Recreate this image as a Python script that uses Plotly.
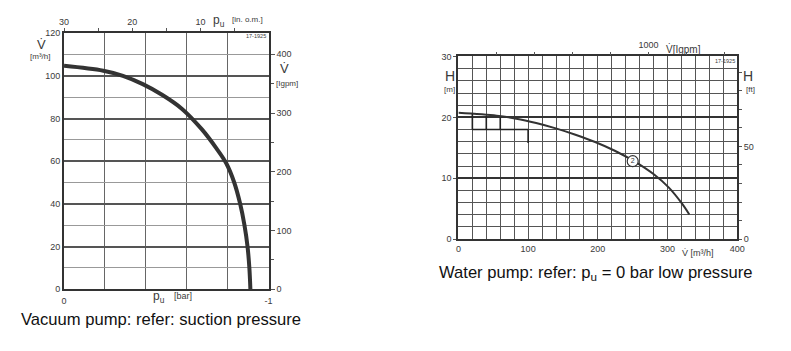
import plotly.graph_objects as go

W, H = 791, 351

# ---------------- data ----------------
# Vacuum pump: suction pressure p_u [bar] vs flow V [m3/h]
vac_p = [0, -0.192, -0.288, -0.385, -0.481, -0.577, -0.673, -0.745, -0.793, -0.832, -0.861, -0.882, -0.897, -0.906, -0.911]
vac_V = [104.7, 102.4, 100.0, 96.1, 91.0, 84.5, 75.0, 66.0, 59.0, 50.0, 40.0, 30.0, 20.0, 10.0, 0.0]

# Water pump: flow Q [m3/h] vs head H [m]
wat_Q = [0, 55, 83, 111.5, 139.7, 167.9, 196.1, 224.3, 252.5, 280.7, 301.9, 320.3, 331.2]
wat_H = [20.74, 20.26, 19.79, 19.07, 18.19, 17.15, 15.96, 14.52, 12.77, 10.61, 8.46, 5.90, 4.04]
wat_point_Q = [250]
wat_point_H = [12.8]
wat_point_label = ["2"]

# tick labels
vac_bar_ticks = [0, -1.0]
vac_bar_text = ["0", "-1"]
vac_bar_minor = [-0.2, -0.4, -0.6, -0.8]
vac_inhg_ticks = [30, 20, 10]
vac_inhg_minor = [25, 15, 5]
vac_V_ticks = [0, 20, 40, 60, 80, 100, 120]
vac_igpm_ticks = [0, 100, 200, 300, 400]
vac_igpm_minor = [50, 150, 250, 350]
wat_Q_ticks = [0, 100, 200, 300, 400]
wat_H_ticks = [0, 10, 20, 30]
wat_igpm_ticks = [1000]
wat_igpm_minor = [200, 400, 600, 800, 1200, 1400]
wat_ft_ticks = [0, 50]
wat_ft_minor = [10, 20, 30, 40, 60, 70, 80, 90]

# traced (darkened) grid segments in the water chart scan
trace_seg_Q = [[20, 100], [20, 20], [40, 40], [60, 60], [100, 100]]
trace_seg_H = [[18, 18], [18, 20.6], [18, 20.2], [18, 20.0], [15.8, 18]]

M3H_TO_IGPM = 3.666
M_TO_FT = 1 / 0.3048

# ---------------- figure ----------------
TXT = "#3a3a3a"
FONT = "Liberation Sans"
fig = go.Figure()

fig.add_trace(go.Scatter(x=vac_p, y=vac_V, mode="lines",
                         line=dict(color="#333", width=4, shape="spline", smoothing=1.0),
                         xaxis="x", yaxis="y", hoverinfo="skip", showlegend=False))
# dummy traces to carry the secondary axes
fig.add_trace(go.Scatter(x=[None], y=[None], xaxis="x2", yaxis="y2", showlegend=False, hoverinfo="skip"))
fig.add_trace(go.Scatter(x=wat_Q, y=wat_H, mode="lines",
                         line=dict(color="#333", width=2, shape="spline", smoothing=1.0),
                         xaxis="x3", yaxis="y3", hoverinfo="skip", showlegend=False))
for sq, sh in zip(trace_seg_Q, trace_seg_H):
    fig.add_trace(go.Scatter(x=sq, y=sh, mode="lines", line=dict(color="#222", width=1.6),
                             xaxis="x3", yaxis="y3", hoverinfo="skip", showlegend=False))
fig.add_trace(go.Scatter(x=wat_point_Q, y=wat_point_H, mode="markers+text", text=wat_point_label,
                         textposition="middle center", textfont=dict(size=7, color="#333", family=FONT),
                         marker=dict(symbol="circle", size=11, color="white", line=dict(color="#333", width=1.2)),
                         xaxis="x3", yaxis="y3", hoverinfo="skip", showlegend=False))
fig.add_trace(go.Scatter(x=[None], y=[None], xaxis="x4", yaxis="y4", showlegend=False, hoverinfo="skip"))

tf = dict(size=9, color=TXT, family=FONT)
ldom_x = [60 / W, 268 / W]
ldom_y = [1 - 292.5 / H, 1 - 29 / H]
rdom_x = [461 / W, 744.5 / W]
rdom_y = [1 - 241 / H, 1 - 53 / H]

fig.update_layout(
    width=W, height=H, margin=dict(l=0, r=0, t=0, b=0),
    paper_bgcolor="white", plot_bgcolor="white", showlegend=False,
    xaxis=dict(domain=ldom_x, anchor="y", range=[0, -1], tickvals=vac_bar_ticks, ticktext=vac_bar_text,
               showgrid=True, gridcolor="#666", gridwidth=1.2, zeroline=False, showline=True,
               linecolor="#333", linewidth=2, ticks="", tickfont=tf, ticklabelstandoff=2,
               minor=dict(tickvals=vac_bar_minor, showgrid=True, gridcolor="#666", gridwidth=1.2)),
    xaxis2=dict(overlaying="x", side="top", anchor="y", range=[30, 0], tickvals=vac_inhg_ticks,
                ticks="outside", ticklen=3, tickcolor="#555", showgrid=False, zeroline=False,
                showline=True, linecolor="#333", linewidth=2, tickfont=tf,
                minor=dict(tickvals=vac_inhg_minor, ticks="outside", ticklen=3, tickcolor="#555")),
    yaxis=dict(domain=ldom_y, anchor="x", range=[0, 120], tickvals=vac_V_ticks, showgrid=True,
               gridcolor="#555", gridwidth=1.5, zeroline=False, showline=True, linecolor="#333",
               linewidth=2, ticks="", tickfont=tf,
               minor=dict(dtick=10, showgrid=True, gridcolor="#999", gridwidth=1)),
    yaxis2=dict(overlaying="y", side="right", anchor="x", range=[0, 436], tickvals=vac_igpm_ticks,
                ticks="outside", ticklen=4, tickcolor="#555", showgrid=False, zeroline=False,
                showline=True, linecolor="#333", linewidth=2, tickfont=tf,
                minor=dict(tickvals=vac_igpm_minor, ticks="outside", ticklen=3, tickcolor="#555")),
    xaxis3=dict(domain=rdom_x, anchor="y3", range=[0, 400], tickvals=wat_Q_ticks, showgrid=True,
                gridcolor="#555", gridwidth=1, zeroline=False, showline=True, linecolor="#333",
                linewidth=2, ticks="", tickfont=tf,
                minor=dict(dtick=20, showgrid=True, gridcolor="#555", gridwidth=1)),
    yaxis3=dict(domain=rdom_y, anchor="x3", range=[0, 30], tickvals=wat_H_ticks, showgrid=True,
                gridcolor="#333", gridwidth=1.6, zeroline=False, showline=True, linecolor="#333",
                linewidth=2, ticks="outside", ticklen=3, tickcolor="#555", tickfont=tf,
                minor=dict(dtick=2, showgrid=True, gridcolor="#555", gridwidth=1)),
    xaxis4=dict(overlaying="x3", side="top", anchor="y3", range=[0, 400 * M3H_TO_IGPM],
                tickvals=wat_igpm_ticks, ticks="outside", ticklen=3,
                tickcolor="#555", showgrid=False, zeroline=False, showline=True, linecolor="#333",
                linewidth=1.5, tickfont=tf,
                minor=dict(tickvals=wat_igpm_minor, ticks="outside", ticklen=3, tickcolor="#555")),
    yaxis4=dict(overlaying="y3", side="right", anchor="x3", range=[0, 30 * M_TO_FT],
                tickvals=wat_ft_ticks, ticks="outside", ticklen=3,
                tickcolor="#555", showgrid=False, zeroline=False, showline=True, linecolor="#333",
                linewidth=1.5, tickfont=tf,
                minor=dict(tickvals=wat_ft_minor, ticks="outside", ticklen=3, tickcolor="#555")),
)


def ann(px, py, text, size=9, xanchor="center", color=TXT, family=FONT):
    fig.add_annotation(x=px / W, y=1 - py / H, xref="paper", yref="paper", text=text, showarrow=False,
                       xanchor=xanchor, yanchor="middle", font=dict(size=size, color=color, family=family))


# vacuum chart labels
ann(37, 41, "V\u0307", 13)
ann(36, 53, "[m³/h]", 8)
ann(218, 16, "p<sub>u</sub>", 12)
ann(247, 15, "[in. o.m.]", 8)
ann(255, 32, "17-1925", 5.5)
ann(284, 65, "V\u0307", 13)
ann(287, 81, "[Igpm]", 8)
ann(157, 301, "p<sub>u</sub>", 12)
ann(181, 300, "[bar]", 9)
ann(14, 324, "Vacuum pump: refer: suction pressure", 16.6, xanchor="left", color="#111")

# water chart labels
ann(452, 73, "H", 14)
ann(452, 87, "[m]", 8)
ann(755, 73, "H", 14)
ann(758, 87, "[ft]", 8)
ann(690, 45, "V\u0307[Igpm]", 10)
ann(732, 58, "17-1925", 5.5)
ann(705, 255, "V\u0307 [m³/h]", 9)
ann(439, 276, "Water pump: refer: p<sub>u</sub> = 0 bar low pressure", 16.6, xanchor="left", color="#111")

fig.write_html("out.html")
